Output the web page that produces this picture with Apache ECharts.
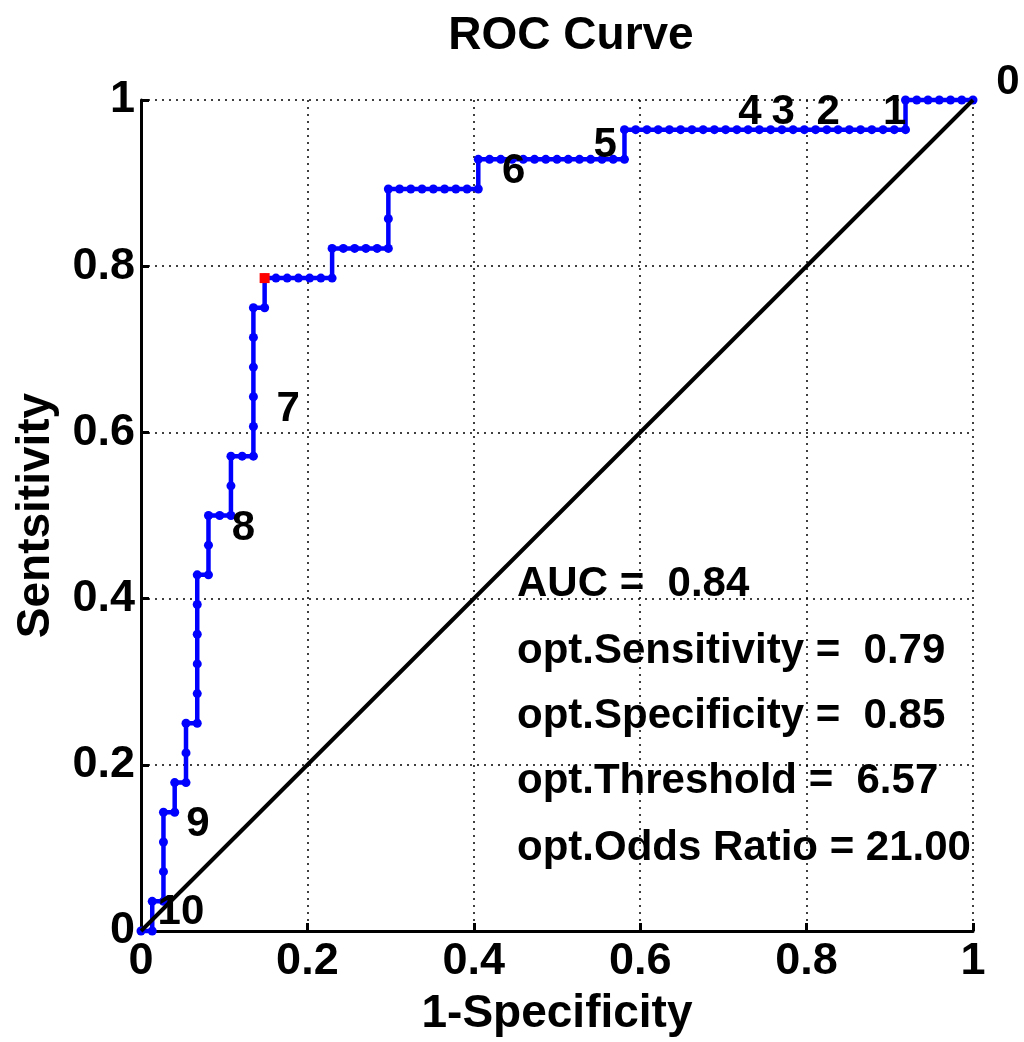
<!DOCTYPE html>
<html>
<head>
<meta charset="utf-8">
<script src="https://cdn.jsdelivr.net/npm/echarts@6/dist/echarts.min.js"></script>
<style>
html,body{margin:0;padding:0;background:#fff;}
#chart{width:1024px;height:1042px;}
</style>
</head>
<body>
<div id="chart"></div>
<script>
// ROC curve points (1-Specificity, Sensitivity)
var fpr = [0,0.0135,0.0135,0.0270,0.0270,0.0270,0.0270,0.0405,0.0405,0.0541,
  0.0541,0.0541,0.0676,0.0676,0.0676,0.0676,0.0676,0.0676,0.0811,0.0811,
  0.0811,0.0946,0.1081,0.1081,0.1081,0.1216,0.1351,0.1351,0.1351,0.1351,
  0.1351,0.1351,0.1486,0.1486,0.1622,0.1757,0.1892,0.2027,0.2162,0.2297,
  0.2297,0.2432,0.2568,0.2703,0.2838,0.2973,0.2973,0.2973,0.3108,0.3243,
  0.3378,0.3514,0.3649,0.3784,0.3919,0.4054,0.4054,0.4189,0.4324,0.4459,
  0.4595,0.4730,0.4865,0.5000,0.5135,0.5270,0.5405,0.5541,0.5676,0.5811,
  0.5811,0.5946,0.6081,0.6216,0.6351,0.6486,0.6622,0.6757,0.6892,0.7027,
  0.7162,0.7297,0.7432,0.7568,0.7703,0.7838,0.7973,0.8108,0.8243,0.8378,
  0.8514,0.8649,0.8784,0.8919,0.9054,0.9189,0.9189,0.9324,0.9459,0.9595,
  0.9730,0.9865,1];
var tpr = [0,0,0.0357,0.0357,0.0714,0.1071,0.1429,0.1429,0.1786,0.1786,
  0.2143,0.2500,0.2500,0.2857,0.3214,0.3571,0.3929,0.4286,0.4286,0.4643,
  0.5000,0.5000,0.5000,0.5357,0.5714,0.5714,0.5714,0.6071,0.6429,0.6786,
  0.7143,0.7500,0.7500,0.7857,0.7857,0.7857,0.7857,0.7857,0.7857,0.7857,
  0.8214,0.8214,0.8214,0.8214,0.8214,0.8214,0.8571,0.8929,0.8929,0.8929,
  0.8929,0.8929,0.8929,0.8929,0.8929,0.8929,0.9286,0.9286,0.9286,0.9286,
  0.9286,0.9286,0.9286,0.9286,0.9286,0.9286,0.9286,0.9286,0.9286,0.9286,
  0.9643,0.9643,0.9643,0.9643,0.9643,0.9643,0.9643,0.9643,0.9643,0.9643,
  0.9643,0.9643,0.9643,0.9643,0.9643,0.9643,0.9643,0.9643,0.9643,0.9643,
  0.9643,0.9643,0.9643,0.9643,0.9643,0.9643,1,1,1,1,
  1,1,1];
// optimal cut-off point
var optPoint = [0.1486, 0.7857];
// chance diagonal
var diagX = [0, 1];
var diagY = [0, 1];
// threshold labels
var thrLabels = ['0','1','2','3','4','5','6','7','8','9','10'];
var thrX = [1.042,0.906,0.826,0.772,0.732,0.558,0.448,0.177,0.123,0.0685,0.048];
var thrY = [1.021,0.985,0.985,0.985,0.985,0.945,0.914,0.628,0.485,0.128,0.022];
// tick values
var ticks = [0,0.2,0.4,0.6,0.8,1];
// statistics text
var statsLines = ['AUC =  0.84','opt.Sensitivity =  0.79','opt.Specificity =  0.85','opt.Threshold =  6.57','opt.Odds Ratio = 21.00'];

var FONT = '"Liberation Sans", Arial, Helvetica, sans-serif';

var rocData = fpr.map(function(x,i){return [x,tpr[i]];});
var diagData = diagX.map(function(x,i){return [x,diagY[i]];});
var lblData = thrLabels.map(function(t,i){return {value:[thrX[i],thrY[i]], name:t};});

var chart = echarts.init(document.getElementById('chart'), null, {renderer:'canvas'});

function axisCommon(){
  return {
    type:'value', min:0, max:1, interval:0.2,
    axisLine:{show:true, onZero:false, lineStyle:{color:'#000', width:3}},
    axisTick:{show:true, inside:true, length:8, lineStyle:{color:'#000', width:3}},
    splitLine:{show:true, showMinLine:false, showMaxLine:true, lineStyle:{color:'#000', width:1.5, type:[2,5]}},
    axisLabel:{color:'#000', fontFamily:FONT, fontWeight:'bold', fontSize:45,
      formatter:function(v){return String(+v.toFixed(1));}},
    nameTextStyle:{color:'#000', fontFamily:FONT, fontWeight:'bold', fontSize:46}
  };
}

var xAx = axisCommon();
xAx.name = '1-Specificity';
xAx.nameLocation = 'middle';
xAx.nameGap = 60;
xAx.axisLabel.margin = 8;

var yAx = axisCommon();
yAx.name = 'Sentsitivity';
yAx.nameLocation = 'middle';
yAx.nameGap = 82;
yAx.axisLabel.margin = 6;

var statsGraphics = statsLines.map(function(s,i){
  return {type:'text', left:517, top:[563,630,695,760,827][i],
    style:{text:s, fill:'#000', font:'bold 42px '+FONT}};
});

chart.setOption({
  animation:false,
  backgroundColor:'#fff',
  title:{text:'ROC Curve', left:566, top:8, textAlign:'center',
    textStyle:{color:'#000', fontFamily:FONT, fontWeight:'bold', fontSize:46}},
  grid:{left:141, top:100, width:832, height:832, containLabel:false},
  xAxis:xAx,
  yAxis:yAx,
  graphic:statsGraphics,
  series:[
    {type:'line', data:rocData, z:2, clip:false,
      lineStyle:{color:'#0000ff', width:4.5},
      symbol:'circle', symbolSize:9, showSymbol:true,
      itemStyle:{color:'#0000ff', borderWidth:0}},
    {type:'line', data:diagData, z:3, symbol:'none', clip:false,
      lineStyle:{color:'#000', width:4}},
    {type:'scatter', data:[optPoint], z:4, symbol:'rect', symbolSize:10,
      itemStyle:{color:'#ff0000', opacity:1}},
    {type:'scatter', data:lblData, z:5, symbolSize:0, clip:false,
      itemStyle:{opacity:1},
      label:{show:true, position:'inside', formatter:'{b}', color:'#000', opacity:1,
        fontFamily:FONT, fontWeight:'bold', fontSize:42}}
  ]
});
</script>
</body>
</html>
